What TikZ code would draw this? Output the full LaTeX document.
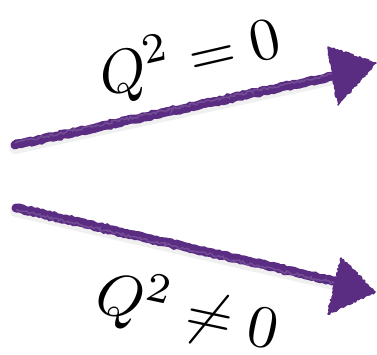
\documentclass[tikz,border=0pt]{standalone}
\usetikzlibrary{decorations.pathmorphing}
\definecolor{chalk}{HTML}{5A2D82}
\tikzset{
  shaft/.style={draw=chalk, line width=9pt, line cap=round,
    decorate, decoration={random steps, segment length=3pt, amplitude=0.8pt}},
  shaftlite/.style={draw=chalk!70!white, line width=1.5pt, opacity=0.5,
    decorate, decoration={random steps, segment length=2pt, amplitude=1.5pt}},
  headfill/.style={fill=chalk, draw=chalk, line width=1.5pt, line join=round,
    decorate, decoration={random steps, segment length=2pt, amplitude=1pt}},
  shadow/.style={draw=black!6, line width=12pt, line cap=round},
  lbl/.style={inner sep=0pt, scale=6}
}
\begin{document}
\begin{tikzpicture}[x=1pt,y=1pt]
\useasboundingbox (0,0) rectangle (377,354);
% arrow 1 (upper)
\coordinate (t1) at (15,209);
\coordinate (b1) at (333,278);
\coordinate (p1) at (376,291);
\coordinate (u1) at (328,307);
\coordinate (l1) at (338,249);
\draw[shadow] ([yshift=-3pt]t1) -- ([yshift=-3pt]b1);
\path[shaft] (t1) -- (b1);
\path[shaftlite] ([yshift=2pt]t1) -- ([yshift=2pt]b1);
\path[headfill] (u1) -- (p1) -- (l1) -- cycle;
% arrow 2 (lower)
\coordinate (t2) at (16,146);
\coordinate (b2) at (338,72);
\coordinate (p2) at (375,62);
\coordinate (u2) at (341,96);
\coordinate (l2) at (328,40);
\draw[shadow] ([yshift=-3pt]t2) -- ([yshift=-3pt]b2);
\path[shaft] (t2) -- (b2);
\path[shaftlite] ([yshift=-2pt]t2) -- ([yshift=-2pt]b2);
\path[headfill] (u2) -- (p2) -- (l2) -- cycle;
% labels
\node[lbl, rotate=13] (q1) at (190,296) {$Q^2=0$};
\node[lbl, rotate=-12] (q2) at (188,42) {$Q^2\neq 0$};
\end{tikzpicture}
\end{document}
